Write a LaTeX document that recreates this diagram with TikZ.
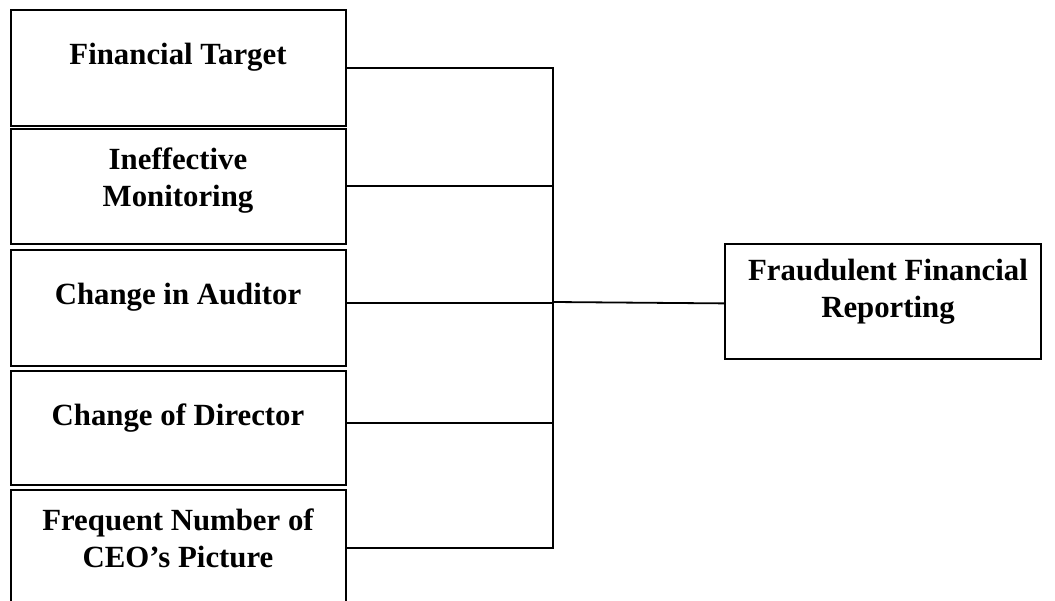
\documentclass[tikz,border=0pt]{standalone}
\usepackage{fontspec}
\setmainfont{Liberation Serif}
\begin{document}
\begin{tikzpicture}[x=1pt,y=-1pt,
  box/.style={draw, line width=1.8pt, rectangle, minimum width=335pt, anchor=north west, inner sep=0pt},
  lbl/.style={font=\fontsize{30.8}{37}\selectfont\bfseries, align=center, inner sep=0pt},
  wire/.style={line width=1.8pt}]
\useasboundingbox (0,0) rectangle (1055,601);
\clip (0,0) rectangle (1055,601);
\fill[white] (0,0) rectangle (1055,601);
% left boxes
\node[box, minimum height=116pt] (b1) at (10,9) {};
\node[box, minimum height=115pt] (b2) at (10,128) {};
\node[box, minimum height=116pt] (b3) at (10,249) {};
\node[box, minimum height=114pt] (b4) at (10,370) {};
\node[box, minimum height=116pt] (b5) at (10,489) {};
\node[lbl] (t1) at (178,57) {Financial Target};
\node[lbl] (t2) at (178,181) {Ineffective\\Monitoring};
\node[lbl] (t3) at (178,297) {Change in Auditor};
\node[lbl] (t4) at (178,418) {Change of Director};
\node[lbl] (t5) at (178,538) {Frequent Number of\\CEO’s Picture};
% right box
\node[box, minimum width=316pt, minimum height=115pt] (f) at (724,243) {};
\node[lbl] (tf) at (888,292) {Fraudulent Financial\\Reporting};
% bus
\coordinate (bus) at (553,0);
\draw[wire, line join=miter] (b1.east) -- (b1.east -| bus) -- (b5.east -| bus) -- (b5.east);
\draw[wire] (b2.east) -- (b2.east -| bus);
\draw[wire] ([yshift=5pt]b3.east) -- ([yshift=5pt]b3.east -| bus);
\draw[wire] ([yshift=5pt]b4.east) -- ([yshift=5pt]b4.east -| bus);
\draw[wire] (bus |- 0,302) -- ([yshift=-2pt]f.west);
\end{tikzpicture}
\end{document}
